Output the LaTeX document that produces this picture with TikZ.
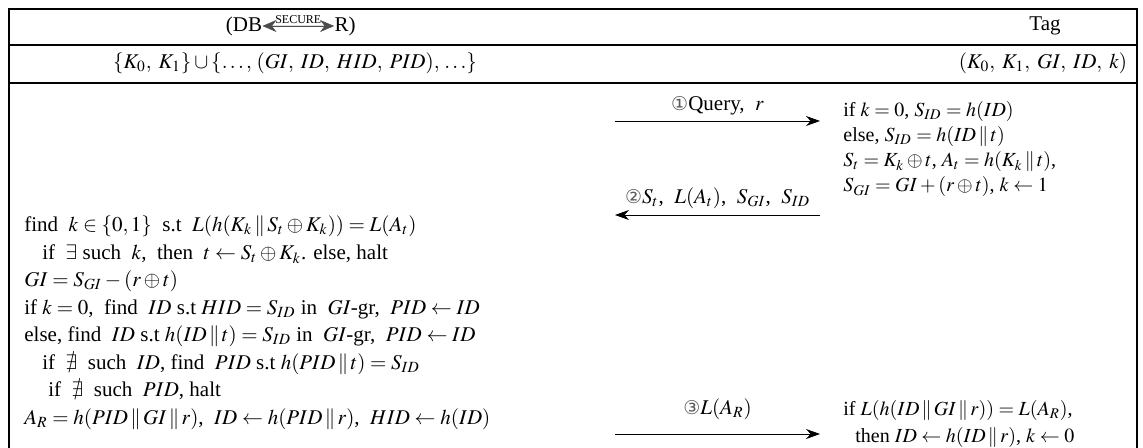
\documentclass[tikz,border=0pt]{standalone}
\usepackage{amssymb}
\usepackage{mathptmx}
\usepackage[no-math]{fontspec}
\setmainfont{Liberation Serif}
\newfontfamily\dejavu{DejaVu Sans}
\usetikzlibrary{arrows.meta}
\newcommand\cnum[1]{{\dejavu\fontsize{9.5}{9.5}\selectfont\color{black!65}#1}}
\newcommand\cat{\,\|\,}
\begin{document}
\begin{tikzpicture}[x=0.5pt,y=-0.5pt,
  txt/.style={inner sep=0pt, anchor=west, font=\fontsize{10.5}{12}\selectfont},
  ttxt/.style={inner sep=0pt, anchor=west, font=\fontsize{10}{12}\selectfont},
  ctxt/.style={inner sep=0pt, anchor=center, font=\fontsize{10.5}{12}\selectfont},
  msg/.style={-{Stealth[length=7pt,width=5pt]}, line width=0.4pt},
  rule/.style={line width=0.6pt},
  lbl/.style={above=3pt, inner sep=0pt, font=\fontsize{10.5}{12}\selectfont}]
\useasboundingbox (0,0) rectangle (1143,448);
% table frame
\draw[rule] (9,448) -- (9,9) -- (1137,9) -- (1137,448);
\draw[rule] (9,45) -- (1137,45);
\draw[line width=1pt] (9,83) -- (1137,83);
% header
\node[ctxt] (db) at (244,26) {(DB};
\node[ctxt] (rr) at (345,26) {R)};
\draw[{Stealth[length=7pt,width=6pt]}-{Stealth[length=7pt,width=6pt]}, line width=0.3pt, draw=black!70, fill=black] (db.east) -- (rr.west)
  node[midway, above=1pt, inner sep=0pt, font=\fontsize{6}{7}\selectfont] {SECURE};
\node[ctxt] (tag) at (1045,26) {Tag};
\node[ctxt] (dbmem) at (295,63) {$\{K_0,\;K_1\}\cup\{\ldots,\,(GI,\;ID,\;HID,\;PID),\,\ldots\}$};
\node[ctxt] (tagmem) at (1043,63) {$(K_0,\;K_1,\;GI,\;ID,\;k)$};
% tag side, step 1
\node[ttxt] (t1) at (843,112) {if $k=0$, $S_{ID}=h(ID)$};
\node[ttxt] (t2) at (843,137) {else, $S_{ID}=h(ID\cat t)$};
\node[ttxt] (t3) at (843,162) {$S_t=K_k\oplus t$, $A_t=h(K_k\cat t)$,};
\node[ttxt] (t4) at (843,187) {$S_{GI}=GI+(r\oplus t)$, $k\leftarrow 1$};
% messages
\coordinate (m1a) at (615,121);
\coordinate (m1b) at (820,121);
\draw[msg] (m1a) -- (m1b) node[midway, lbl] {\cnum{①}Query, ~$r$};
\coordinate (m2a) at (820,215);
\coordinate (m2b) at (615,215);
\draw[msg] (m2a) -- (m2b) node[midway, lbl] {\cnum{②}$S_t$, ~$L(A_t)$, ~$S_{GI}$, ~$S_{ID}$};
\coordinate (m3a) at (615,434);
\coordinate (m3b) at (820,434);
\draw[msg] (m3a) -- (m3b) node[midway, above=7pt, inner sep=0pt, font=\fontsize{10.5}{12}\selectfont] {\cnum{③}$L(A_R)$};
% server side
\node[txt] (l1) at (24,226) {find~ $k\in\{0,1\}$~ s.t~ $L(h(K_k\cat S_t\oplus K_k))=L(A_t)$};
\node[txt] (l2) at (42,254) {if~ $\exists$ such~ $k$, ~then~ $t\leftarrow S_t\oplus K_k$. else, halt};
\node[txt] (l3) at (24,281) {$GI=S_{GI}-(r\oplus t)$};
\node[txt] (l4) at (24,309) {if $k=0$, ~find~ $ID$ s.t $HID=S_{ID}$ in~ $GI$-gr, ~$PID\leftarrow ID$};
\node[txt] (l5) at (24,336) {else, find~ $ID$ s.t $h(ID\cat t)=S_{ID}$ in~ $GI$-gr, ~$PID\leftarrow ID$};
\node[txt] (l6) at (42,364) {if~ $\nexists$~ such~ $ID$, find~ $PID$ s.t $h(PID\cat t)=S_{ID}$};
\node[txt] (l7) at (48,391) {if~ $\nexists$~ such~ $PID$, halt};
\node[txt] (l8) at (24,419) {$A_R=h(PID\cat GI\cat r)$, ~$ID\leftarrow h(PID\cat r)$, ~$HID\leftarrow h(ID)$};
% tag side, step 3
\node[ttxt] (t5) at (843,410) {if $L(h(ID\cat GI\cat r))=L(A_R)$,};
\node[ttxt] (t6) at (855,437) {then $ID\leftarrow h(ID\cat r)$, $k\leftarrow 0$};
\end{tikzpicture}
\end{document}
